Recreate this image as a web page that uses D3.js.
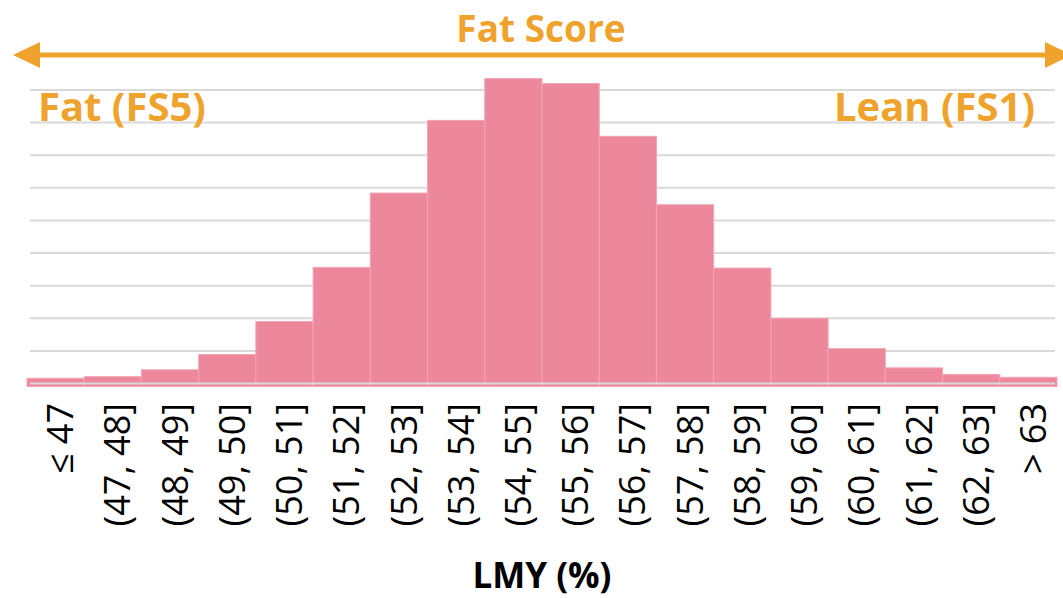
<!DOCTYPE html>
<html>
<head>
<meta charset="utf-8">
<script src="https://cdn.jsdelivr.net/npm/d3@7"></script>
<style>
  html, body { margin: 0; padding: 0; background: #ffffff; }
  svg { display: block; }
</style>
</head>
<body>
<svg id="chart" width="1063" height="598"></svg>
<script>
const categories = ["\u2264 47", "(47, 48]", "(48, 49]", "(49, 50]", "(50, 51]", "(51, 52]",
  "(52, 53]", "(53, 54]", "(54, 55]", "(55, 56]", "(56, 57]", "(57, 58]", "(58, 59]",
  "(59, 60]", "(60, 61]", "(61, 62]", "(62, 63]", "> 63"];
const values = [0.16, 0.21, 0.42, 0.89, 1.9, 3.56, 5.84, 8.07, 9.35, 9.2, 7.58, 5.48,
  3.54, 2.0, 1.07, 0.48, 0.28, 0.19];
const gridTicks = [1, 2, 3, 4, 5, 6, 7, 8, 9];
const titleText = "Fat Score";
const leftText = "Fat (FS5)";
const rightText = "Lean (FS1)";
const xTitle = "LMY (%)";

const orange = "#EFA32C";
const pink = "#EC879C";
const gridColor = "#d9d9d9";

const svg = d3.select("#chart");

const x = d3.scaleBand().domain(categories).range([27, 1057]).padding(0);
const y = d3.scaleLinear().domain([0, 9]).range([383.5, 90]);

// gridlines
svg.append("g").selectAll("line").data(gridTicks).join("line")
  .attr("x1", 30).attr("x2", 1055)
  .attr("y1", d => y(d)).attr("y2", d => y(d))
  .attr("stroke", gridColor).attr("stroke-width", 2);

// bars
svg.append("g").selectAll("rect").data(values).join("rect")
  .attr("x", (d, i) => x(categories[i]))
  .attr("width", x.bandwidth())
  .attr("y", d => y(d))
  .attr("height", d => y(0) - y(d) + 3)
  .attr("fill", pink)
  .attr("stroke", "#F2A6B6")
  .attr("stroke-width", 1);

// baseline
svg.append("line")
  .attr("x1", 30).attr("x2", 1055)
  .attr("y1", y(0)).attr("y2", y(0))
  .attr("stroke", gridColor).attr("stroke-width", 2);

// x axis labels
const xAxis = svg.append("g")
  .call(d3.axisBottom(x).tickSize(0));
xAxis.select(".domain").remove();
xAxis.selectAll(".tick text")
  .attr("transform", "rotate(-90)")
  .attr("x", -403)
  .attr("y", 5)
  .attr("dy", "0.35em")
  .attr("text-anchor", "end")
  .attr("font-family", "'Open Sans', sans-serif")
  .attr("font-size", 36)
  .attr("fill", "#000");
xAxis.selectAll(".tick").attr("transform", d => `translate(${x(d) + x.bandwidth() / 2},0)`);

// x title
svg.append("text")
  .attr("x", 542).attr("y", 588)
  .attr("text-anchor", "middle")
  .attr("font-family", "'Open Sans', sans-serif")
  .attr("font-weight", "bold")
  .attr("font-size", 35)
  .attr("fill", "#000")
  .text(xTitle);

// arrow
svg.append("line")
  .attr("x1", 38).attr("x2", 1047)
  .attr("y1", 55).attr("y2", 55)
  .attr("stroke", orange).attr("stroke-width", 5);
svg.append("path").attr("d", "M13,55 L40,42 L40,68 Z").attr("fill", orange);
svg.append("path").attr("d", "M1072,55 L1045,42 L1045,68 Z").attr("fill", orange);

// orange texts
svg.append("text")
  .attr("x", 541).attr("y", 42)
  .attr("text-anchor", "middle")
  .attr("font-family", "'Open Sans', sans-serif")
  .attr("font-weight", "bold")
  .attr("font-size", 37)
  .attr("fill", orange)
  .text(titleText);
svg.append("text")
  .attr("x", 38).attr("y", 121)
  .attr("text-anchor", "start")
  .attr("font-family", "'Open Sans', sans-serif")
  .attr("font-weight", "bold")
  .attr("font-size", 40)
  .attr("fill", orange)
  .text(leftText);
svg.append("text")
  .attr("x", 1035).attr("y", 121)
  .attr("text-anchor", "end")
  .attr("font-family", "'Open Sans', sans-serif")
  .attr("font-weight", "bold")
  .attr("font-size", 40)
  .attr("fill", orange)
  .text(rightText);
</script>
</body>
</html>
